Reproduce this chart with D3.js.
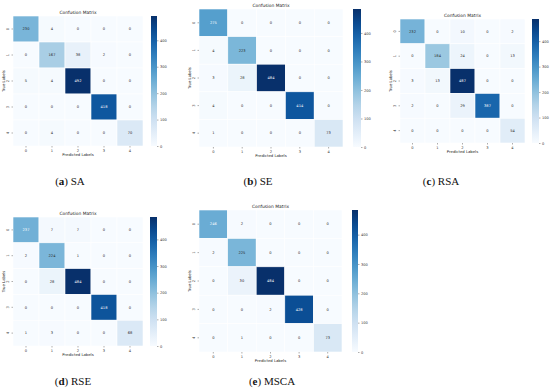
<!DOCTYPE html>
<html>
<head>
<meta charset="utf-8">
<script src="https://cdn.jsdelivr.net/npm/d3@7"></script>
<style>
  body { margin: 0; background: #fff; }
  svg { display: block; }
  .tick text { fill: #333; }
  .tick line { stroke: #333; }
</style>
</head>
<body>
<script>
// class labels used on both axes of every matrix
var classLabels = ["0", "1", "2", "3", "4"];

// confusion matrices (rows = true, cols = predicted)
var saMatrix = [
  [230, 4, 0, 0, 0],
  [0, 167, 38, 2, 0],
  [5, 4, 492, 0, 0],
  [0, 0, 0, 418, 0],
  [0, 4, 0, 0, 70]
];
var seMatrix = [
  [275, 0, 0, 0, 0],
  [4, 223, 0, 0, 0],
  [3, 28, 484, 0, 0],
  [4, 0, 0, 414, 0],
  [1, 0, 0, 0, 73]
];
var rsaMatrix = [
  [232, 0, 10, 0, 2],
  [0, 184, 24, 0, 13],
  [3, 13, 487, 0, 0],
  [2, 0, 29, 387, 0],
  [0, 0, 0, 0, 54]
];
var rseMatrix = [
  [237, 7, 7, 0, 0],
  [2, 224, 1, 0, 0],
  [0, 28, 484, 0, 0],
  [0, 0, 0, 418, 0],
  [1, 3, 0, 0, 68]
];
var mscaMatrix = [
  [246, 2, 0, 0, 0],
  [2, 225, 0, 0, 0],
  [0, 30, 484, 0, 0],
  [0, 0, 2, 428, 0],
  [0, 1, 0, 0, 73]
];

var captionLetters = ["a", "b", "c", "d", "e"];
var captionNames = ["SA", "SE", "RSA", "RSE", "MSCA"];
var colorbarTicks = [0, 100, 200, 300, 400];

var matrices = [saMatrix, seMatrix, rsaMatrix, rseMatrix, mscaMatrix];

// where each panel sits on the page
var layout = [
  { x0: 13, x1: 143, y0: 16, y1: 146, cb0: 151, cb1: 157, capX: 70, capY: 185 },
  { x0: 199, x1: 343, y0: 9, y1: 147, cb0: 353, cb1: 361, capX: 258, capY: 185 },
  { x0: 400, x1: 525, y0: 19, y1: 143, cb0: 532, cb1: 539, capX: 441, capY: 185 },
  { x0: 13, x1: 143, y0: 217, y1: 346, cb0: 150, cb1: 157, capX: 73, capY: 385 },
  { x0: 199, x1: 342, y0: 210, y1: 352, cb0: 352, cb1: 358, capX: 272, capY: 385 }
];

var width = 550, height = 391;

var svg = d3.select("body").append("svg")
  .attr("width", width)
  .attr("height", height);

var defs = svg.append("defs");

// seaborn picks annotation colour from the cell's luminance
function lum(c) {
  var rgb = d3.rgb(c);
  var f = function(v) {
    v = v / 255;
    return v <= 0.03928 ? v / 12.92 : Math.pow((v + 0.055) / 1.055, 2.4);
  };
  return 0.2126 * f(rgb.r) + 0.7152 * f(rgb.g) + 0.0722 * f(rgb.b);
}

function drawPanel(matrix, L, i) {
  var g = svg.append("g").attr("class", "panel");
  var x = d3.scaleBand().domain(classLabels).range([L.x0, L.x1]);
  var y = d3.scaleBand().domain(classLabels).range([L.y0, L.y1]);
  var vmax = d3.max(matrix, function(r) { return d3.max(r); });
  var color = d3.scaleSequential(d3.interpolateBlues).domain([0, vmax]);

  var cells = [];
  matrix.forEach(function(row, ri) {
    row.forEach(function(v, ci) {
      cells.push({ r: classLabels[ri], c: classLabels[ci], v: v });
    });
  });

  g.selectAll("rect.cell")
    .data(cells)
    .enter().append("rect")
    .attr("class", "cell")
    .attr("x", function(d) { return x(d.c); })
    .attr("y", function(d) { return y(d.r); })
    .attr("width", x.bandwidth())
    .attr("height", y.bandwidth())
    .attr("fill", function(d) { return color(d.v); })
    .attr("stroke", "#fff")
    .attr("stroke-width", 0.6);

  g.selectAll("text.val")
    .data(cells)
    .enter().append("text")
    .attr("class", "val")
    .attr("x", function(d) { return x(d.c) + x.bandwidth() / 2; })
    .attr("y", function(d) { return y(d.r) + y.bandwidth() / 2; })
    .attr("dy", "0.35em")
    .attr("text-anchor", "middle")
    .attr("font-family", "DejaVu Sans")
    .attr("font-size", 3.6)
    .attr("fill", function(d) { return lum(color(d.v)) > 0.408 ? "#262626" : "#fff"; })
    .text(function(d) { return d.v; });

  // axes
  var xa = g.append("g")
    .attr("transform", "translate(0," + L.y1 + ")")
    .call(d3.axisBottom(x).tickSize(1.5).tickPadding(1.5));
  xa.select(".domain").remove();
  xa.selectAll("text").attr("font-size", 3.6).attr("font-family", "DejaVu Sans");
  xa.selectAll("line").attr("stroke-width", 0.4);

  var ya = g.append("g")
    .attr("transform", "translate(" + L.x0 + ",0)")
    .call(d3.axisLeft(y).tickSize(1.5).tickPadding(1.5));
  ya.select(".domain").remove();
  ya.selectAll("line").attr("stroke-width", 0.4);
  ya.selectAll("text")
    .attr("font-size", 3.6)
    .attr("font-family", "DejaVu Sans")
    .attr("x", null).attr("dy", null)
    .attr("text-anchor", "middle")
    .attr("transform", "translate(-4,0) rotate(-90)");

  g.append("text")
    .attr("x", (L.x0 + L.x1) / 2)
    .attr("y", L.y0 - 2.5)
    .attr("text-anchor", "middle")
    .attr("font-family", "DejaVu Sans")
    .attr("font-size", 4.4)
    .attr("fill", "#222")
    .text("Confusion Matrix");

  g.append("text")
    .attr("x", (L.x0 + L.x1) / 2)
    .attr("y", L.y1 + 10)
    .attr("text-anchor", "middle")
    .attr("font-family", "DejaVu Sans")
    .attr("font-size", 3.8)
    .attr("fill", "#222")
    .text("Predicted Labels");

  g.append("text")
    .attr("transform", "translate(" + (L.x0 - 8.5) + "," + ((L.y0 + L.y1) / 2) + ") rotate(-90)")
    .attr("text-anchor", "middle")
    .attr("font-family", "DejaVu Sans")
    .attr("font-size", 3.8)
    .attr("fill", "#222")
    .text("True Labels");

  // colour bar
  var gid = "cbgrad" + i;
  var grad = defs.append("linearGradient")
    .attr("id", gid)
    .attr("x1", 0).attr("y1", 1).attr("x2", 0).attr("y2", 0);
  d3.range(0, 1.0001, 0.1).forEach(function(t) {
    grad.append("stop")
      .attr("offset", t)
      .attr("stop-color", d3.interpolateBlues(t));
  });
  var cy = d3.scaleLinear().domain([0, vmax]).range([L.y1, L.y0]);
  g.append("rect")
    .attr("x", L.cb0)
    .attr("y", L.y0)
    .attr("width", L.cb1 - L.cb0)
    .attr("height", L.y1 - L.y0)
    .attr("fill", "url(#" + gid + ")");
  var ca = g.append("g")
    .attr("transform", "translate(" + L.cb1 + ",0)")
    .call(d3.axisRight(cy).tickValues(colorbarTicks).tickSize(1.5).tickPadding(1.5));
  ca.select(".domain").remove();
  ca.selectAll("line").attr("stroke-width", 0.4);
  ca.selectAll("text").attr("font-size", 3.6).attr("font-family", "DejaVu Sans");

  // caption under the panel
  var cap = svg.append("text")
    .attr("x", L.capX)
    .attr("y", L.capY)
    .attr("text-anchor", "middle")
    .attr("font-family", "Liberation Serif")
    .attr("font-size", 11)
    .attr("fill", "#111");
  cap.append("tspan").text("(");
  cap.append("tspan").attr("font-weight", "bold").text(captionLetters[i]);
  cap.append("tspan").text(") " + captionNames[i]);
}

matrices.forEach(function(m, i) {
  drawPanel(m, layout[i], i);
});
</script>
</body>
</html>
